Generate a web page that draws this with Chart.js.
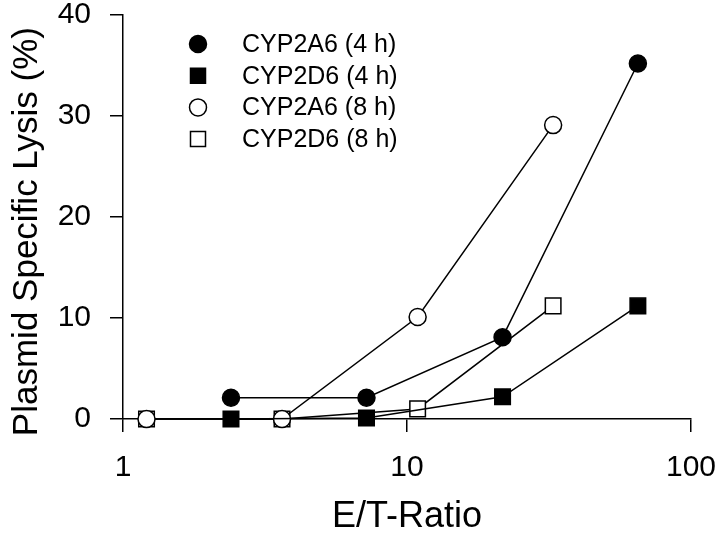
<!DOCTYPE html>
<html>
<head>
<meta charset="utf-8">
<script src="https://cdn.jsdelivr.net/npm/chart.js@4/dist/chart.umd.min.js"></script>
<style>
  html, body { margin: 0; padding: 0; background: #fff; }
  #wrap { width: 720px; height: 536px; }
</style>
</head>
<body>
<div id="wrap"><canvas id="chart" width="720" height="536"></canvas></div>
<script>
// E/T ratios (3-fold dilutions)
const etRatio4h = [2.4, 7.2, 21.7, 65];
const etRatio8h = [1.21, 3.63, 10.9, 32.7];

// plasmid specific lysis (%)
const lysisCyp2a6_4h = [2.1, 2.1, 8.1, 35.2];
const lysisCyp2d6_4h = [0, 0.1, 2.2, 11.2];
const lysisCyp2a6_8h = [0, 0, 10.1, 29.1];
const lysisCyp2d6_8h = [0, 0, 1.0, 11.2];

const seriesLabels = ['CYP2A6 (4 h)', 'CYP2D6 (4 h)', 'CYP2A6 (8 h)', 'CYP2D6 (8 h)'];
const xTickLabels = [1, 10, 100];
const yTickLabels = [0, 10, 20, 30, 40];

const FONT = 'Liberation Sans, Arial, Helvetica, sans-serif';

function toPoints(xs, ys) {
    return xs.map((x, i) => ({ x: x, y: ys[i] }));
}

function makeSet(label, xs, ys, style, filled) {
    const round = style === 'circle';
    return {
        label: label,
        data: toPoints(xs, ys),
        borderColor: '#000',
        borderWidth: 1.5,
        pointStyle: style,
        pointRadius: round ? 8.5 : 11,
        pointHoverRadius: round ? 8.5 : 11,
        pointBorderWidth: 1.5,
        pointBorderColor: '#000',
        pointBackgroundColor: filled ? '#000' : '#fff',
        backgroundColor: filled ? '#000' : '#fff',
        tension: 0,
        clip: false
    };
}

// no extra room for overhanging tick labels, keep the plot box fixed
function noPad(scale) {
    scale.paddingTop = 0;
    scale.paddingBottom = 0;
    scale.paddingLeft = 0;
    scale.paddingRight = 0;
}

// legend drawn inside the plot, top left
const innerLegend = {
    id: 'innerLegend',
    afterDraw(chart) {
        const ctx = chart.ctx;
        ctx.save();
        ctx.font = '25px ' + FONT;
        ctx.textBaseline = 'middle';
        chart.data.datasets.forEach((ds, i) => {
            const y = 44 + i * 31.7;
            const x = 198;
            ctx.lineWidth = 1.5;
            ctx.strokeStyle = '#000';
            ctx.fillStyle = ds.pointBackgroundColor;
            ctx.beginPath();
            if (ds.pointStyle === 'circle') {
                ctx.arc(x, y, 8.5, 0, Math.PI * 2);
            } else {
                ctx.rect(x - 7.5, y - 7.5, 15, 15);
            }
            ctx.fill();
            ctx.stroke();
            ctx.fillStyle = '#000';
            ctx.fillText(ds.label, 242, y + 1);
        });
        ctx.restore();
    }
};

document.addEventListener('DOMContentLoaded', () => {
    const ctx = document.getElementById('chart');
    new Chart(ctx, {
        type: 'line',
        data: {
            datasets: [
                makeSet(seriesLabels[0], etRatio4h, lysisCyp2a6_4h, 'circle', true),
                makeSet(seriesLabels[1], etRatio4h, lysisCyp2d6_4h, 'rect', true),
                makeSet(seriesLabels[2], etRatio8h, lysisCyp2a6_8h, 'circle', false),
                makeSet(seriesLabels[3], etRatio8h, lysisCyp2d6_8h, 'rect', false)
            ]
        },
        options: {
            responsive: false,
            animation: false,
            devicePixelRatio: 1,
            layout: { padding: { top: 15, right: 29, left: 0, bottom: 0 } },
            plugins: {
                legend: { display: false },
                tooltip: { enabled: false }
            },
            scales: {
                x: {
                    type: 'logarithmic',
                    min: 1,
                    max: 100,
                    afterBuildTicks(scale) {
                        scale.ticks = xTickLabels.map(v => ({ value: v }));
                    },
                    afterFit(scale) { scale.height = 117; noPad(scale); },
                    ticks: {
                        color: '#000',
                        font: { family: FONT, size: 30, lineHeight: 1 },
                        padding: 21,
                        maxRotation: 0,
                        autoSkip: false,
                        callback: (v) => String(v)
                    },
                    grid: { drawOnChartArea: false, drawTicks: true, tickLength: 13, color: '#000', lineWidth: 1.5 },
                    border: { color: '#000', width: 1.5 },
                    title: {
                        display: true,
                        text: 'E/T-Ratio',
                        color: '#000',
                        font: { family: FONT, size: 36, lineHeight: 1 },
                        padding: { top: 0, bottom: 1 }
                    }
                },
                y: {
                    type: 'linear',
                    min: 0,
                    max: 40,
                    afterBuildTicks(scale) {
                        scale.ticks = yTickLabels.map(v => ({ value: v }));
                    },
                    afterFit(scale) { scale.width = 123; noPad(scale); },
                    ticks: {
                        color: '#000',
                        font: { family: FONT, size: 30, lineHeight: 1 },
                        padding: 19
                    },
                    grid: { drawOnChartArea: false, drawTicks: true, tickLength: 13, color: '#000', lineWidth: 1.5 },
                    border: { color: '#000', width: 1.5 },
                    title: {
                        display: true,
                        // trailing no-break spaces nudge the centred title a little downwards
                        text: 'Plasmid Specific Lysis (%)\u00a0\u00a0\u00a0',
                        color: '#000',
                        font: { family: FONT, size: 35, lineHeight: 1.2 },
                        padding: { top: 6, bottom: 0 }
                    }
                }
            }
        },
        plugins: [innerLegend]
    });
});
</script>
</body>
</html>
